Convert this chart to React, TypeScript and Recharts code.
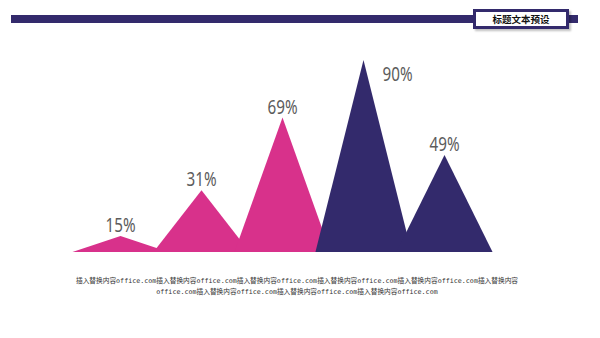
import React from 'react';
import { BarChart, Bar, XAxis, YAxis, LabelList } from 'recharts';

// categories (one triangle each) and the percentages printed above them
const items = ['A', 'B', 'C', 'D', 'E'];
const percents = [15, 31, 69, 90, 49];
// drawn peak heights (same units, tallest = 90)
const peakHeights = [7.5, 29, 63, 90, 45.5];

const titleText = '标题文本预设';
const fillerCjk = '插入替换内容';
const fillerLatin = 'office.com';

const PINK = '#d8318b';
const PURPLE = '#332a6c';
const barColors = [PINK, PINK, PINK, PURPLE, PURPLE];

const data = items.map((name, i) => ({
  name,
  percent: percents[i],
  peak: peakHeights[i],
}));

const Triangle = (props: any) => {
  const { x, y, width, height, index } = props;
  const cx = x + width / 2;
  const half = width * 0.593;
  const base = y + height;
  return (
    <polygon
      points={`${cx - half},${base} ${cx},${y} ${cx + half},${base}`}
      fill={barColors[index]}
    />
  );
};

const PeakLabel = (props: any) => {
  const { x, y, width, index } = props;
  const cx = x + width / 2;
  const text = `${percents[index]}%`;
  // no room above the tallest peak: put the label to its right
  const onSide = y < 80;
  return (
    <text
      x={onSide ? cx + 34 : cx}
      y={onSide ? y + 21 : y - 4}
      textAnchor="middle"
      fontSize={20}
      textLength={30}
      lengthAdjust="spacingAndGlyphs"
      fontFamily="'Noto Sans', 'DejaVu Sans Condensed', sans-serif"
      fill="#5c5c5c"
    >
      {text}
    </text>
  );
};

export default function App() {
  const line1 = Array(6).fill(fillerCjk).join(fillerLatin);
  const line2 = fillerLatin + Array(3).fill(fillerCjk + fillerLatin).join('');
  return (
    <div
      style={{
        position: 'absolute',
        left: 0,
        top: 0,
        width: 600,
        height: 338,
        background: '#fff',
        overflow: 'hidden',
      }}
    >
      {/* top rule */}
      <div
        style={{
          position: 'absolute',
          left: 11,
          top: 15,
          width: 567,
          height: 8,
          background: PURPLE,
        }}
      />
      {/* title box */}
      <div
        style={{
          position: 'absolute',
          left: 473,
          top: 9,
          width: 90,
          height: 14,
          border: `3px solid ${PURPLE}`,
          background: '#fff',
          boxShadow: '2px 2px 2px rgba(0,0,0,0.25)',
          fontFamily: "'Noto Sans CJK SC', sans-serif",
          fontWeight: 700,
          fontSize: 9.5,
          lineHeight: '14px',
          textAlign: 'center',
          color: '#111',
        }}
      >
        {titleText}
      </div>

      <BarChart
        width={600}
        height={338}
        data={data}
        margin={{ top: 60, right: 115, bottom: 86, left: 80 }}
        barCategoryGap={0}
        style={{ position: 'absolute', left: 0, top: 0 }}
      >
        <XAxis dataKey="name" hide />
        <YAxis hide domain={[0, 90]} />
        <Bar dataKey="peak" shape={Triangle} isAnimationActive={false}>
          <LabelList dataKey="percent" content={PeakLabel} />
        </Bar>
      </BarChart>

      {/* filler text under the chart */}
      <div
        style={{
          position: 'absolute',
          left: 0,
          top: 276,
          width: 594,
          textAlign: 'center',
          fontFamily: "'DejaVu Sans Mono', 'Noto Sans CJK SC', monospace",
          fontSize: 6.7,
          lineHeight: '11px',
          color: '#333',
          whiteSpace: 'pre',
        }}
      >
        <div>{line1}</div>
        <div>{line2}</div>
      </div>
    </div>
  );
}
